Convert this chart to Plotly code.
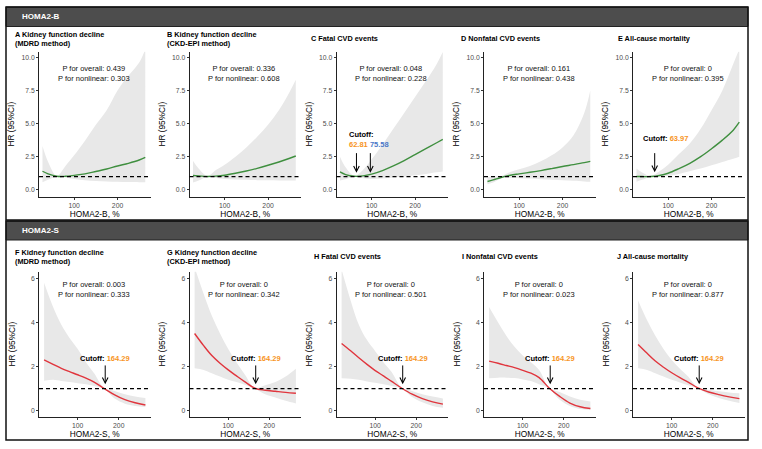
import plotly.graph_objects as go
from plotly.subplots import make_subplots

W, H = 762, 449

# x grids (HOMA2-B top row, HOMA2-S bottom row)
homa2b_x = [27, 40, 60, 80, 100, 125, 150, 175, 200, 225, 250, 264]
homa2s_x = [18, 40, 60, 80, 100, 120, 140, 165, 190, 215, 240, 265]

# HOMA2-B panels: hazard ratio, lower and upper 95% CI
a_hr = [1.40, 1.20, 1.02, 1.02, 1.09, 1.20, 1.38, 1.57, 1.80, 2.00, 2.25, 2.45]
a_lo = [0.57, 0.75, 0.98, 0.93, 0.82, 0.72, 0.66, 0.63, 0.60, 0.58, 0.57, 0.57]
a_hi = [3.30, 2.10, 1.05, 1.80, 2.60, 3.70, 4.90, 6.00, 7.50, 8.60, 9.60, 10.6]

b_hr = [1.08, 1.05, 1.00, 1.03, 1.10, 1.25, 1.42, 1.62, 1.85, 2.10, 2.38, 2.55]
b_lo = [0.55, 0.70, 0.97, 0.90, 0.82, 0.78, 0.75, 0.73, 0.72, 0.71, 0.70, 0.70]
b_hi = [2.20, 1.60, 1.05, 1.50, 1.90, 2.50, 3.20, 4.00, 4.90, 6.00, 7.40, 8.30]

c_hr = [1.35, 1.15, 1.02, 1.05, 1.18, 1.45, 1.80, 2.20, 2.65, 3.10, 3.55, 3.80]
c_lo = [0.70, 0.80, 0.98, 0.88, 0.82, 0.85, 0.92, 1.00, 1.10, 1.20, 1.32, 1.38]
c_hi = [2.50, 1.70, 1.05, 1.50, 2.30, 3.40, 4.60, 5.80, 7.00, 8.20, 9.50, 10.4]

d_hr = [0.63, 0.75, 0.95, 1.10, 1.20, 1.32, 1.45, 1.60, 1.76, 1.90, 2.05, 2.15]
d_lo = [0.42, 0.55, 0.90, 0.90, 0.88, 0.85, 0.80, 0.75, 0.72, 0.68, 0.63, 0.60]
d_hi = [0.95, 1.00, 1.05, 1.35, 1.55, 1.80, 2.15, 2.60, 3.20, 4.10, 5.80, 7.50]

e_hr = [1.00, 1.00, 1.00, 1.08, 1.25, 1.60, 2.00, 2.50, 3.10, 3.75, 4.50, 5.10]
e_lo = [0.60, 0.75, 0.97, 0.98, 1.05, 1.20, 1.40, 1.60, 1.85, 2.10, 2.35, 2.50]
e_hi = [1.60, 1.30, 1.03, 1.40, 1.90, 2.70, 3.50, 4.60, 6.00, 7.50, 9.50, 10.6]

# HOMA2-S panels
f_hr = [2.30, 2.10, 1.92, 1.77, 1.63, 1.48, 1.30, 1.00, 0.72, 0.50, 0.36, 0.26]
f_lo = [1.36, 1.40, 1.35, 1.30, 1.25, 1.20, 1.12, 1.00, 0.55, 0.32, 0.22, 0.17]
f_hi = [5.80, 4.70, 3.90, 3.30, 2.80, 2.20, 1.70, 1.02, 0.90, 0.75, 0.65, 0.58]

g_hr = [3.50, 2.95, 2.50, 2.15, 1.85, 1.58, 1.32, 1.02, 0.93, 0.88, 0.83, 0.79]
g_lo = [1.92, 1.85, 1.70, 1.55, 1.40, 1.30, 1.18, 1.00, 0.75, 0.60, 0.45, 0.33]
g_hi = [6.50, 5.30, 4.30, 3.50, 2.80, 2.20, 1.65, 1.03, 1.15, 1.30, 1.55, 1.90]

h_hr = [3.05, 2.72, 2.40, 2.10, 1.82, 1.58, 1.33, 1.02, 0.75, 0.55, 0.40, 0.30]
h_lo = [1.47, 1.45, 1.40, 1.33, 1.27, 1.20, 1.12, 1.00, 0.62, 0.38, 0.22, 0.13]
h_hi = [6.40, 5.00, 3.90, 3.20, 2.70, 2.20, 1.75, 1.03, 0.90, 0.75, 0.65, 0.56]

i_hr = [2.25, 2.15, 2.05, 1.95, 1.83, 1.70, 1.50, 1.02, 0.65, 0.35, 0.18, 0.10]
i_lo = [1.47, 1.50, 1.50, 1.48, 1.42, 1.35, 1.20, 1.00, 0.50, 0.22, 0.08, 0.03]
i_hi = [4.70, 4.00, 3.40, 2.90, 2.50, 2.20, 1.85, 1.03, 0.85, 0.65, 0.50, 0.42]

j_hr = [3.00, 2.60, 2.25, 1.97, 1.72, 1.50, 1.30, 1.02, 0.85, 0.73, 0.63, 0.55]
j_lo = [1.92, 1.85, 1.70, 1.55, 1.40, 1.28, 1.15, 1.00, 0.75, 0.58, 0.45, 0.35]
j_hi = [5.00, 4.10, 3.40, 2.80, 2.30, 1.90, 1.55, 1.03, 0.95, 0.88, 0.83, 0.79]

titles = ["A Kidney function decline<br>(MDRD method)",
          "B Kidney function decline<br>(CKD-EPI method)",
          "C Fatal CVD events", "D Nonfatal CVD events", "E All-cause mortality",
          "F Kidney function decline<br>(MDRD method)",
          "G Kidney function decline<br>(CKD-EPI method)",
          "H Fatal CVD events", "I Nonfatal CVD events", "J All-cause mortality"]
p_overall = ["0.439", "0.336", "0.048", "0.161", "0", "0.003", "0", "0", "0", "0"]
p_nonlinear = ["0.303", "0.608", "0.228", "0.438", "0.395", "0.333", "0.342", "0.501", "0.023", "0.877"]

# cutoff labels and where the arrows sit on the x axis
cutoffs = {2: ["62.81", "75.58"], 4: ["63.97"], 5: ["164.29"], 6: ["164.29"],
           7: ["164.29"], 8: ["164.29"], 9: ["164.29"]}
arrow_x = {2: [65, 97], 4: [69], 5: [167], 6: [167], 7: [167], 8: [167], 9: [167]}

sections = ["HOMA2-B", "HOMA2-S"]
x_titles = ["HOMA2-B, %", "HOMA2-S, %"]

panels = [(homa2b_x, a_hr, a_lo, a_hi), (homa2b_x, b_hr, b_lo, b_hi),
          (homa2b_x, c_hr, c_lo, c_hi), (homa2b_x, d_hr, d_lo, d_hi),
          (homa2b_x, e_hr, e_lo, e_hi),
          (homa2s_x, f_hr, f_lo, f_hi), (homa2s_x, g_hr, g_lo, g_hi),
          (homa2s_x, h_hr, h_lo, h_hi), (homa2s_x, i_hr, i_lo, i_hi),
          (homa2s_x, j_hr, j_lo, j_hi)]

GREEN = "#3f8f3f"
RED = "#e0353d"
ORANGE = "#f7941d"
BLUE = "#4a78c8"
RIBBON = "#e8e8e8"
FONT = "Liberation Sans, Arial, sans-serif"


def px_x(p):
    return p / W


def px_y(p):
    return 1 - p / H


# pixel layout of the plotting areas
plot_left = [39, 189.5, 336.5, 484, 633]
plot_w = 111.5
plot_top = [51.7, 271.7]
plot_h = 145
title_left = [[13, 165, 309, 459, 616], [13.3, 165, 311.7, 460, 615]]
x_ranges = [[19, 276], [5.6, 277.4]]
y_ranges = [[-0.52, 10.42], [-0.27, 6.3]]
y_ticks = [[0, 2.5, 5, 7.5, 10], [0, 2, 4, 6]]

fig = make_subplots(rows=2, cols=5)

for k, (xs, hr, lo, hi) in enumerate(panels):
    r, c = divmod(k, 5)
    color = GREEN if r == 0 else RED
    fig.add_trace(go.Scatter(x=xs, y=lo, mode="lines", line=dict(width=0, shape="spline"),
                             hoverinfo="skip"), row=r + 1, col=c + 1)
    fig.add_trace(go.Scatter(x=xs, y=hi, mode="lines", line=dict(width=0, shape="spline"),
                             fill="tonexty", fillcolor=RIBBON, hoverinfo="skip"), row=r + 1, col=c + 1)
    fig.add_trace(go.Scatter(x=xs, y=hr, mode="lines", line=dict(color=color, width=1.4, shape="spline")),
                  row=r + 1, col=c + 1)

annotations = []
shapes = []

for k in range(10):
    r, c = divmod(k, 5)
    n = "" if k == 0 else str(k + 1)
    L = plot_left[c]
    T = plot_top[r]
    fig.update_layout({
        "xaxis" + n: dict(domain=[px_x(L), px_x(L + plot_w)], range=x_ranges[r],
                          tickvals=[100, 200], title=dict(text=x_titles[r], standoff=2,
                                                          font=dict(size=8.3, color="black"))),
        "yaxis" + n: dict(domain=[px_y(T + plot_h), px_y(T)], range=y_ranges[r],
                          tickvals=y_ticks[r], tickformat=".1f" if r == 0 else "d",
                          title=dict(text="HR (95%CI)", standoff=5 if r == 0 else 14,
                                     font=dict(size=8.3, color="black"))),
    })
    # reference line at HR = 1
    shapes.append(dict(type="line", xref="x" + n + " domain", x0=0, x1=1,
                       yref="y" + n, y0=1, y1=1, layer="above",
                       line=dict(color="black", width=1.2, dash="4px,3px")))
    # panel title
    two_lines = "<br>" in titles[k]
    ty = (39.3 if two_lines else 38.3) + (217.7 if r == 1 else 0)
    annotations.append(dict(text="<b>" + titles[k] + "</b>", xref="paper", yref="paper",
                            x=px_x(title_left[r][c]), y=px_y(ty), xanchor="left", yanchor="middle",
                            align="left", showarrow=False, font=dict(size=7.3, color="black")))
    # p values
    annotations.append(dict(text="P for overall: " + p_overall[k] + "<br>P for nonlinear: " + p_nonlinear[k],
                            xref="x" + n + " domain", x=0.49, yref="y" + n, y=8.8 if r == 0 else 5.5,
                            showarrow=False, align="center", font=dict(size=7.5, color="#111")))
    # cutoff label + arrows
    if k in cutoffs:
        vals = cutoffs[k]
        if len(vals) == 2:
            txt = ("<b>Cutoff:</b><br><b><span style='color:%s'>%s</span> "
                   "<span style='color:%s'>%s</span></b>" % (ORANGE, vals[0], BLUE, vals[1]))
            annotations.append(dict(text=txt, xref="x" + n, yref="y" + n, x=44, y=3.8,
                                    xanchor="left", align="left", showarrow=False,
                                    font=dict(size=7.5, color="black")))
            tail, tip = 2.88, 1.28
        else:
            txt = "<b>Cutoff: <span style='color:%s'>%s</span></b>" % (ORANGE, vals[0])
            lx = 94 if r == 0 else arrow_x[k][0]
            ly = 3.9 if r == 0 else 2.36
            annotations.append(dict(text=txt, xref="x" + n, yref="y" + n, x=lx, y=ly,
                                    showarrow=False, font=dict(size=7.5, color="black")))
            tail, tip = (2.88, 1.32) if r == 0 else (2.12, 1.2)
        for ax_ in arrow_x[k]:
            annotations.append(dict(text="", xref="x" + n, yref="y" + n, x=ax_, y=tip,
                                    axref="x" + n, ayref="y" + n, ax=ax_, ay=tail,
                                    showarrow=True, arrowhead=5, arrowsize=1.1, arrowwidth=1,
                                    arrowcolor="black", standoff=0))

# section frames and dark header strips
frames = [(6, 7, 748, 220), (6, 221, 748, 440)]
strips = [(6, 7, 748, 26.5), (6, 221, 748, 240)]
for s, ((x0, y0, x1, y1), (sx0, sy0, sx1, sy1)) in enumerate(zip(frames, strips)):
    shapes.append(dict(type="rect", xref="paper", yref="paper", x0=px_x(sx0), x1=px_x(sx1),
                       y0=px_y(sy1), y1=px_y(sy0), fillcolor="#4d4d4d",
                       line=dict(color="#222", width=1), layer="above"))
    shapes.append(dict(type="rect", xref="paper", yref="paper", x0=px_x(x0), x1=px_x(x1),
                       y0=px_y(y1), y1=px_y(y0), line=dict(color="#111", width=1.5), layer="above"))
    annotations.append(dict(text="<b>" + sections[s] + "</b>", xref="paper", yref="paper",
                            x=px_x(20), y=px_y((sy0 + sy1) / 2), xanchor="left", yanchor="middle",
                            showarrow=False, font=dict(size=8, color="white")))

fig.update_xaxes(showline=True, linecolor="#222", linewidth=0.8, ticks="outside", ticklen=2,
                 tickcolor="#333", tickfont=dict(size=6.8, color="#4d4d4d"),
                 showgrid=False, zeroline=False)
fig.update_yaxes(showline=True, linecolor="#222", linewidth=0.8, ticks="outside", ticklen=2,
                 tickcolor="#333", tickfont=dict(size=6.8, color="#4d4d4d"),
                 showgrid=False, zeroline=False)

fig.update_layout(width=W, height=H, margin=dict(l=0, r=0, t=0, b=0),
                  paper_bgcolor="white", plot_bgcolor="white", showlegend=False,
                  font=dict(family=FONT), annotations=annotations, shapes=shapes)

# the page body has a default 8px margin; drop it so pixel positions line up
fig.write_html("out.html", config={"displayModeBar": False},
               post_script="document.body.style.margin='0';")
